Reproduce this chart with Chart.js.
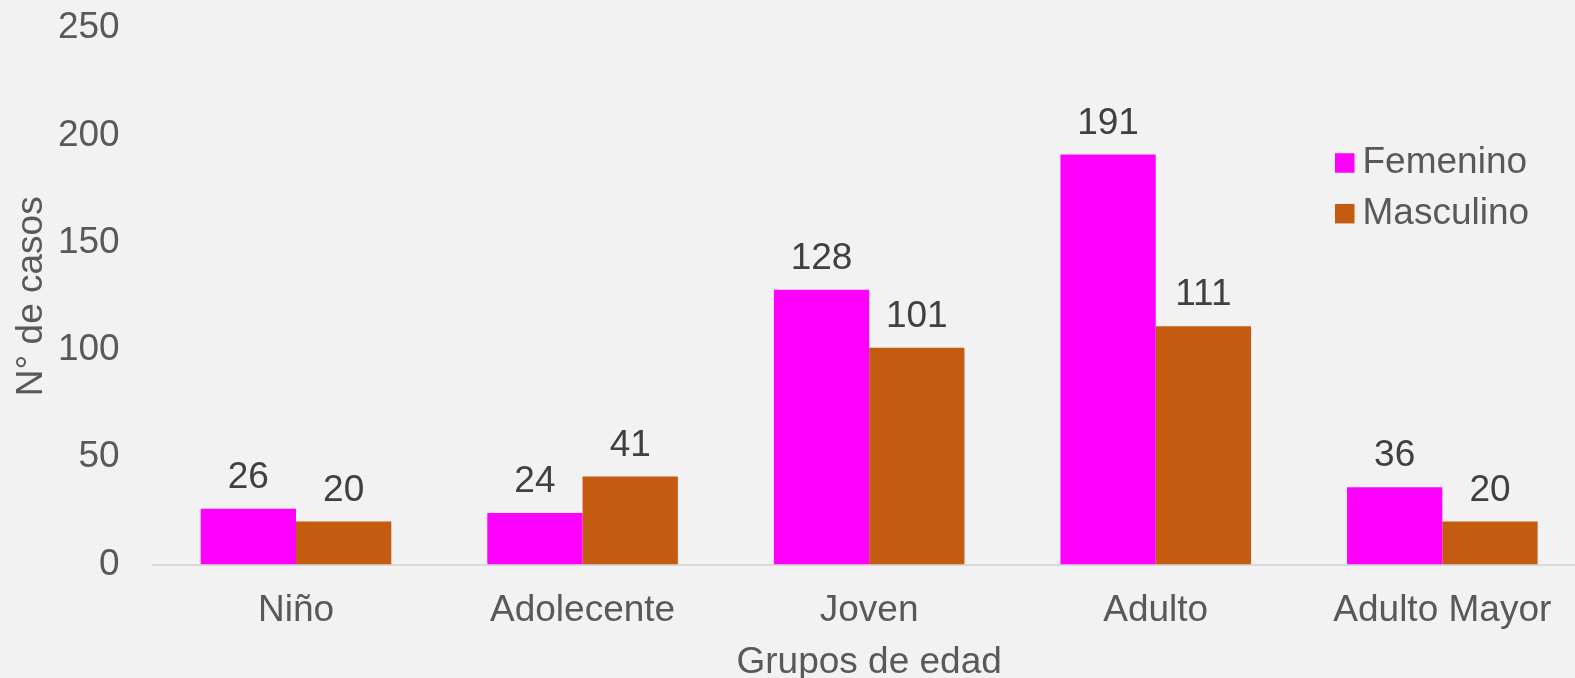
<!DOCTYPE html>
<html lang="es">
<head>
<meta charset="utf-8">
<title>Casos por grupo de edad y sexo</title>
<script src="https://cdn.jsdelivr.net/npm/chart.js@4.4.1/dist/chart.umd.min.js"></script>
<style>
  html, body { margin: 0; padding: 0; background: #f2f2f2; overflow: hidden; }
  #wrap { position: relative; width: 1600px; height: 678px; }
</style>
</head>
<body>
<div id="wrap"><canvas id="chart" width="1600" height="678"></canvas></div>
<script>
// Age groups and case counts by sex
const categories = ['Niño', 'Adolecente', 'Joven', 'Adulto', 'Adulto Mayor'];
const femenino = [26, 24, 128, 191, 36];
const masculino = [20, 41, 101, 111, 20];
const seriesNames = ['Femenino', 'Masculino'];
const yTicks = [0, 50, 100, 150, 200, 250];

const FONT = '"Liberation Sans", Arial, sans-serif';
const TEXT_SIZE = 37;
const AXIS_TEXT = '#595959';
const VALUE_TEXT = '#404040';

// Paint the light grey page colour behind the chart
const backgroundPlugin = {
  id: 'pageBackground',
  beforeDraw(chart) {
    const ctx = chart.ctx;
    ctx.save();
    ctx.fillStyle = '#f2f2f2';
    ctx.fillRect(0, 0, chart.width, chart.height);
    ctx.restore();
  }
};

// Value labels above every bar
const valueLabelPlugin = {
  id: 'valueLabels',
  afterDatasetsDraw(chart, args, opts) {
    const ctx = chart.ctx;
    ctx.save();
    ctx.font = `${opts.size}px ${FONT}`;
    ctx.fillStyle = opts.color;
    ctx.textAlign = 'center';
    ctx.textBaseline = 'middle';
    chart.data.datasets.forEach((ds, i) => {
      const meta = chart.getDatasetMeta(i);
      meta.data.forEach((bar, j) => {
        ctx.fillText(String(ds.data[j]), bar.x, bar.y - opts.offset);
      });
    });
    ctx.restore();
  }
};

// Legend drawn inside the plot area, top right
const insideLegendPlugin = {
  id: 'insideLegend',
  afterDraw(chart, args, opts) {
    const ctx = chart.ctx;
    ctx.save();
    ctx.font = `${opts.size}px ${FONT}`;
    ctx.textAlign = 'left';
    ctx.textBaseline = 'middle';
    chart.data.datasets.forEach((ds, i) => {
      const cy = opts.top + i * opts.rowGap;
      ctx.fillStyle = ds.backgroundColor;
      ctx.fillRect(opts.left, cy - opts.box / 2, opts.box, opts.box);
      ctx.fillStyle = opts.color;
      ctx.fillText(ds.label, opts.left + opts.box + opts.gap, cy);
    });
    ctx.restore();
  }
};

new Chart(document.getElementById('chart'), {
  type: 'bar',
  data: {
    labels: categories,
    datasets: [
      { label: seriesNames[0], data: femenino, backgroundColor: '#ff00ff', borderWidth: 0 },
      { label: seriesNames[1], data: masculino, backgroundColor: '#c55a11', borderWidth: 0 }
    ]
  },
  options: {
    responsive: false,
    animation: false,
    devicePixelRatio: 1,
    layout: { padding: { top: 28, right: 14.4, left: 0, bottom: 0 } },
    datasets: { bar: { categoryPercentage: 0.665, barPercentage: 1 } },
    plugins: {
      legend: { display: false },
      tooltip: { enabled: false },
      valueLabels: { size: TEXT_SIZE, color: VALUE_TEXT, offset: 31 },
      insideLegend: { size: TEXT_SIZE, color: AXIS_TEXT, left: 1335, top: 163, rowGap: 50.7, box: 19.5, gap: 8 }
    },
    scales: {
      x: {
        grid: { display: false, drawTicks: false },
        border: { display: true, color: '#d9d9d9', width: 2 },
        ticks: { font: { family: FONT, size: TEXT_SIZE }, color: AXIS_TEXT, padding: 24, maxRotation: 0, autoSkip: false },
        title: {
          display: true, text: 'Grupos de edad', color: AXIS_TEXT,
          font: { family: FONT, size: TEXT_SIZE, lineHeight: 0.8 }, padding: { top: 0, bottom: 0 }
        },
        afterFit(scale) { scale.height = 113.5; }
      },
      y: {
        min: 0, max: 250,
        afterBuildTicks(scale) { scale.ticks = yTicks.map(v => ({ value: v })); },
        grid: { display: false, drawTicks: false },
        border: { display: false },
        ticks: { font: { family: FONT, size: TEXT_SIZE }, color: AXIS_TEXT, padding: 33 },
        title: {
          display: true, text: 'N° de casos', color: AXIS_TEXT,
          font: { family: FONT, size: TEXT_SIZE, lineHeight: 1 }, padding: { top: 12.8, bottom: 0 }
        },
        afterFit(scale) {
          scale.width = 152.7;
          scale.paddingTop = 22;
        }
      }
    }
  },
  plugins: [backgroundPlugin, valueLabelPlugin, insideLegendPlugin]
});
</script>
</body>
</html>
